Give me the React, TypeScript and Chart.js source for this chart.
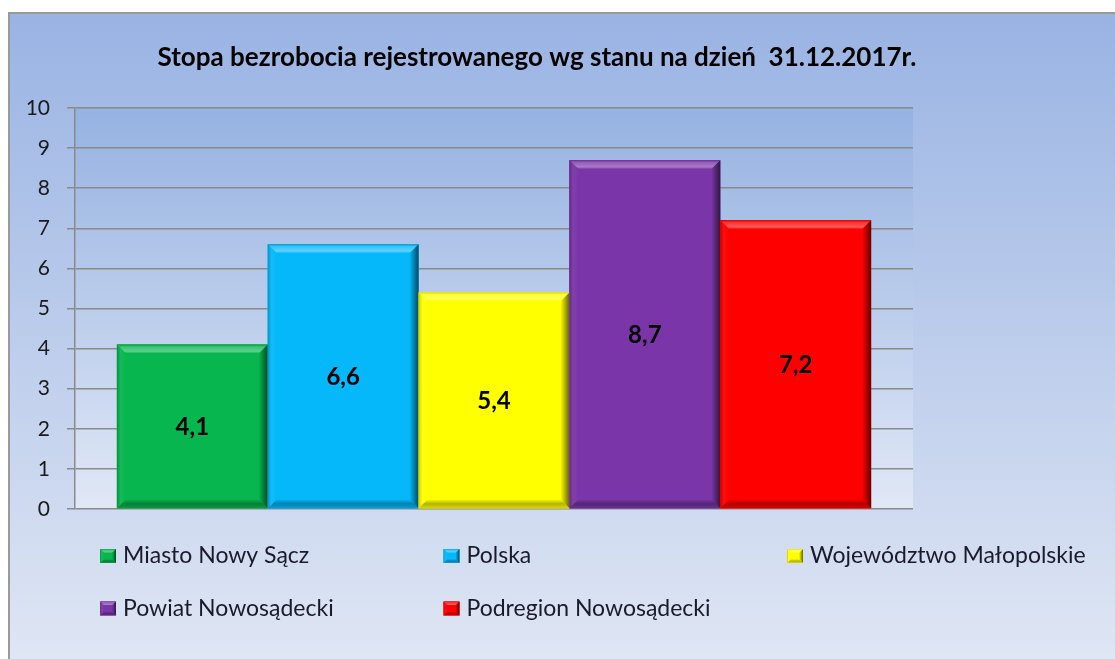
import React, { useEffect, useRef } from "react";
import { Chart, registerables } from "chart.js";
Chart.register(...registerables);

const chartTitle = "Stopa bezrobocia rejestrowanego wg stanu na dzień  31.12.2017r.";
const categories = [""];
const seriesNames = [
  "Miasto Nowy Sącz",
  "Polska",
  "Województwo Małopolskie",
  "Powiat Nowosądecki",
  "Podregion Nowosądecki",
];
const seriesValues = [4.1, 6.6, 5.4, 8.7, 7.2];
const seriesColors = ["#07b64f", "#05b8fa", "#ffff00", "#7a36a8", "#ff0000"];
const yMin = 0;
const yMax = 10;
const yStep = 1;

const FONT = "Lato, 'Open Sans', sans-serif";

function hexToRgb(h: string) {
  const n = parseInt(h.slice(1), 16);
  return [(n >> 16) & 255, (n >> 8) & 255, n & 255];
}
function mix(h: string, t: string, a: number) {
  const c1 = hexToRgb(h), c2 = hexToRgb(t);
  const r = c1.map((v, i) => Math.round(v + (c2[i] - v) * a));
  return `rgb(${r[0]},${r[1]},${r[2]})`;
}

function drawBevelRect(ctx: CanvasRenderingContext2D, l: number, t: number, r: number, b: number, color: string, bw: number) {
  ctx.save();
  ctx.fillStyle = color;
  ctx.fillRect(l, t, r - l, b - t);
  const bv = Math.min(bw, (r - l) / 2, (b - t) / 2);
  // top
  let g = ctx.createLinearGradient(0, t, 0, t + bv);
  g.addColorStop(0, mix(color, "#000000", 0.15));
  g.addColorStop(0.25, mix(color, "#ffffff", 0.2));
  g.addColorStop(0.75, mix(color, "#ffffff", 0.35));
  g.addColorStop(1, color);
  ctx.fillStyle = g;
  ctx.beginPath();
  ctx.moveTo(l, t); ctx.lineTo(r, t); ctx.lineTo(r - bv, t + bv); ctx.lineTo(l + bv, t + bv); ctx.closePath();
  ctx.fill();
  // bottom
  g = ctx.createLinearGradient(0, b - bv, 0, b);
  g.addColorStop(0, color);
  g.addColorStop(0.5, mix(color, "#000000", 0.3));
  g.addColorStop(1, mix(color, "#000000", 0.15));
  ctx.fillStyle = g;
  ctx.beginPath();
  ctx.moveTo(l, b); ctx.lineTo(r, b); ctx.lineTo(r - bv, b - bv); ctx.lineTo(l + bv, b - bv); ctx.closePath();
  ctx.fill();
  // right
  g = ctx.createLinearGradient(r - bv, 0, r, 0);
  g.addColorStop(0, color);
  g.addColorStop(1, mix(color, "#000000", 0.6));
  ctx.fillStyle = g;
  ctx.beginPath();
  ctx.moveTo(r, t); ctx.lineTo(r, b); ctx.lineTo(r - bv, b - bv); ctx.lineTo(r - bv, t + bv); ctx.closePath();
  ctx.fill();
  // left
  g = ctx.createLinearGradient(l, 0, l + bv, 0);
  g.addColorStop(0, mix(color, "#000000", 0.2));
  g.addColorStop(0.4, mix(color, "#ffffff", 0.05));
  g.addColorStop(1, color);
  ctx.fillStyle = g;
  ctx.beginPath();
  ctx.moveTo(l, t); ctx.lineTo(l, b); ctx.lineTo(l + bv, b - bv); ctx.lineTo(l + bv, t + bv); ctx.closePath();
  ctx.fill();
  ctx.restore();
}

const decorPlugin = {
  id: "decor",
  beforeDraw(chart: any) {
    const { ctx, width, height, chartArea } = chart;
    ctx.save();
    ctx.fillStyle = "#ffffff";
    ctx.fillRect(0, 0, width, height);
    const g = ctx.createLinearGradient(0, 12, 0, height);
    g.addColorStop(0, "#99b3e3");
    g.addColorStop(1, "#dfe6f4");
    ctx.fillStyle = g;
    ctx.fillRect(9, 13, width - 9, height - 13);
    ctx.strokeStyle = "#9a9a9a";
    ctx.lineWidth = 2;
    ctx.beginPath();
    ctx.moveTo(9, height + 2);
    ctx.lineTo(9, 13);
    ctx.lineTo(width + 2, 13);
    ctx.stroke();
    const pg = ctx.createLinearGradient(0, chartArea.top, 0, chartArea.bottom);
    pg.addColorStop(0, "#95b2e1");
    pg.addColorStop(1, "#e1e8f6");
    ctx.fillStyle = pg;
    ctx.fillRect(chartArea.left, chartArea.top, chartArea.right - chartArea.left, chartArea.bottom - chartArea.top);
    // title
    ctx.fillStyle = "#000000";
    ctx.font = `bold 26px ${FONT}`;
    ctx.textAlign = "center";
    ctx.textBaseline = "middle";
    ctx.fillText(chartTitle, 537, 58);
    ctx.restore();
  },
  afterDatasetsDraw(chart: any) {
    const { ctx } = chart;
    ctx.save();
    chart.data.datasets.forEach((ds: any, i: number) => {
      const meta = chart.getDatasetMeta(i);
      meta.data.forEach((el: any, j: number) => {
        const p = el.getProps(["x", "y", "base", "width"], true);
        const l = p.x - p.width / 2, r = p.x + p.width / 2;
        drawBevelRect(ctx, l, p.y, r, p.base, ds.backgroundColor, 9);
        ctx.fillStyle = "#000000";
        ctx.font = `bold 24px ${FONT}`;
        ctx.textAlign = "center";
        ctx.textBaseline = "middle";
        ctx.fillText(String(ds.data[j]).replace(".", ","), p.x, (p.y + p.base) / 2 + 1);
      });
    });
    ctx.restore();
  },
  afterDraw(chart: any) {
    const { ctx } = chart;
    ctx.save();
    ctx.font = `23px ${FONT}`;
    ctx.textBaseline = "middle";
    ctx.textAlign = "left";
    const cols = 3;
    chart.data.datasets.forEach((ds: any, i: number) => {
      const col = i % cols, row = Math.floor(i / cols);
      const x = 100 + col * 343.5;
      const y = 556 + row * 52.5;
      drawBevelRect(ctx, x, y - 7, x + 16, y + 7, ds.backgroundColor, 4);
      ctx.fillStyle = "#1a1a2a";
      ctx.fillText(ds.label, x + 23, y);
    });
    ctx.restore();
  },
};

export default function App() {
  const ref = useRef<HTMLCanvasElement | null>(null);
  useEffect(() => {
    if (!ref.current) return;
    const chart = new Chart(ref.current, {
      type: "bar",
      data: {
        labels: categories,
        datasets: seriesNames.map((name, i) => ({
          label: name,
          data: [seriesValues[i]],
          backgroundColor: seriesColors[i],
          borderWidth: 0,
        })),
      },
      options: {
        responsive: false,
        animation: false,
        devicePixelRatio: 1,
        layout: { padding: { left: 0, right: 202, top: 108, bottom: 150 } },
        datasets: { bar: { categoryPercentage: 0.9, barPercentage: 1 } },
        plugins: {
          legend: { display: false },
          title: { display: false },
          tooltip: { enabled: false },
        },
        scales: {
          x: { display: false },
          y: {
            min: yMin,
            max: yMax,
            ticks: {
              stepSize: yStep,
              color: "#1a1a1a",
              padding: 17,
              font: { family: FONT, size: 21 },
            },
            grid: { color: "#8a8a8a", lineWidth: 1.5, tickLength: 8, drawTicks: true },
            border: { color: "#8a8a8a", width: 1.5 },
            afterFit(scale: any) {
              scale.width = 75;
            },
          },
        },
      },
      plugins: [decorPlugin],
    } as any);
    return () => chart.destroy();
  }, []);
  return (
    <div style={{ position: "fixed", left: 0, top: 0, width: 1115, height: 659 }}>
      <canvas ref={ref} width={1115} height={659} style={{ display: "block" }} />
    </div>
  );
}
